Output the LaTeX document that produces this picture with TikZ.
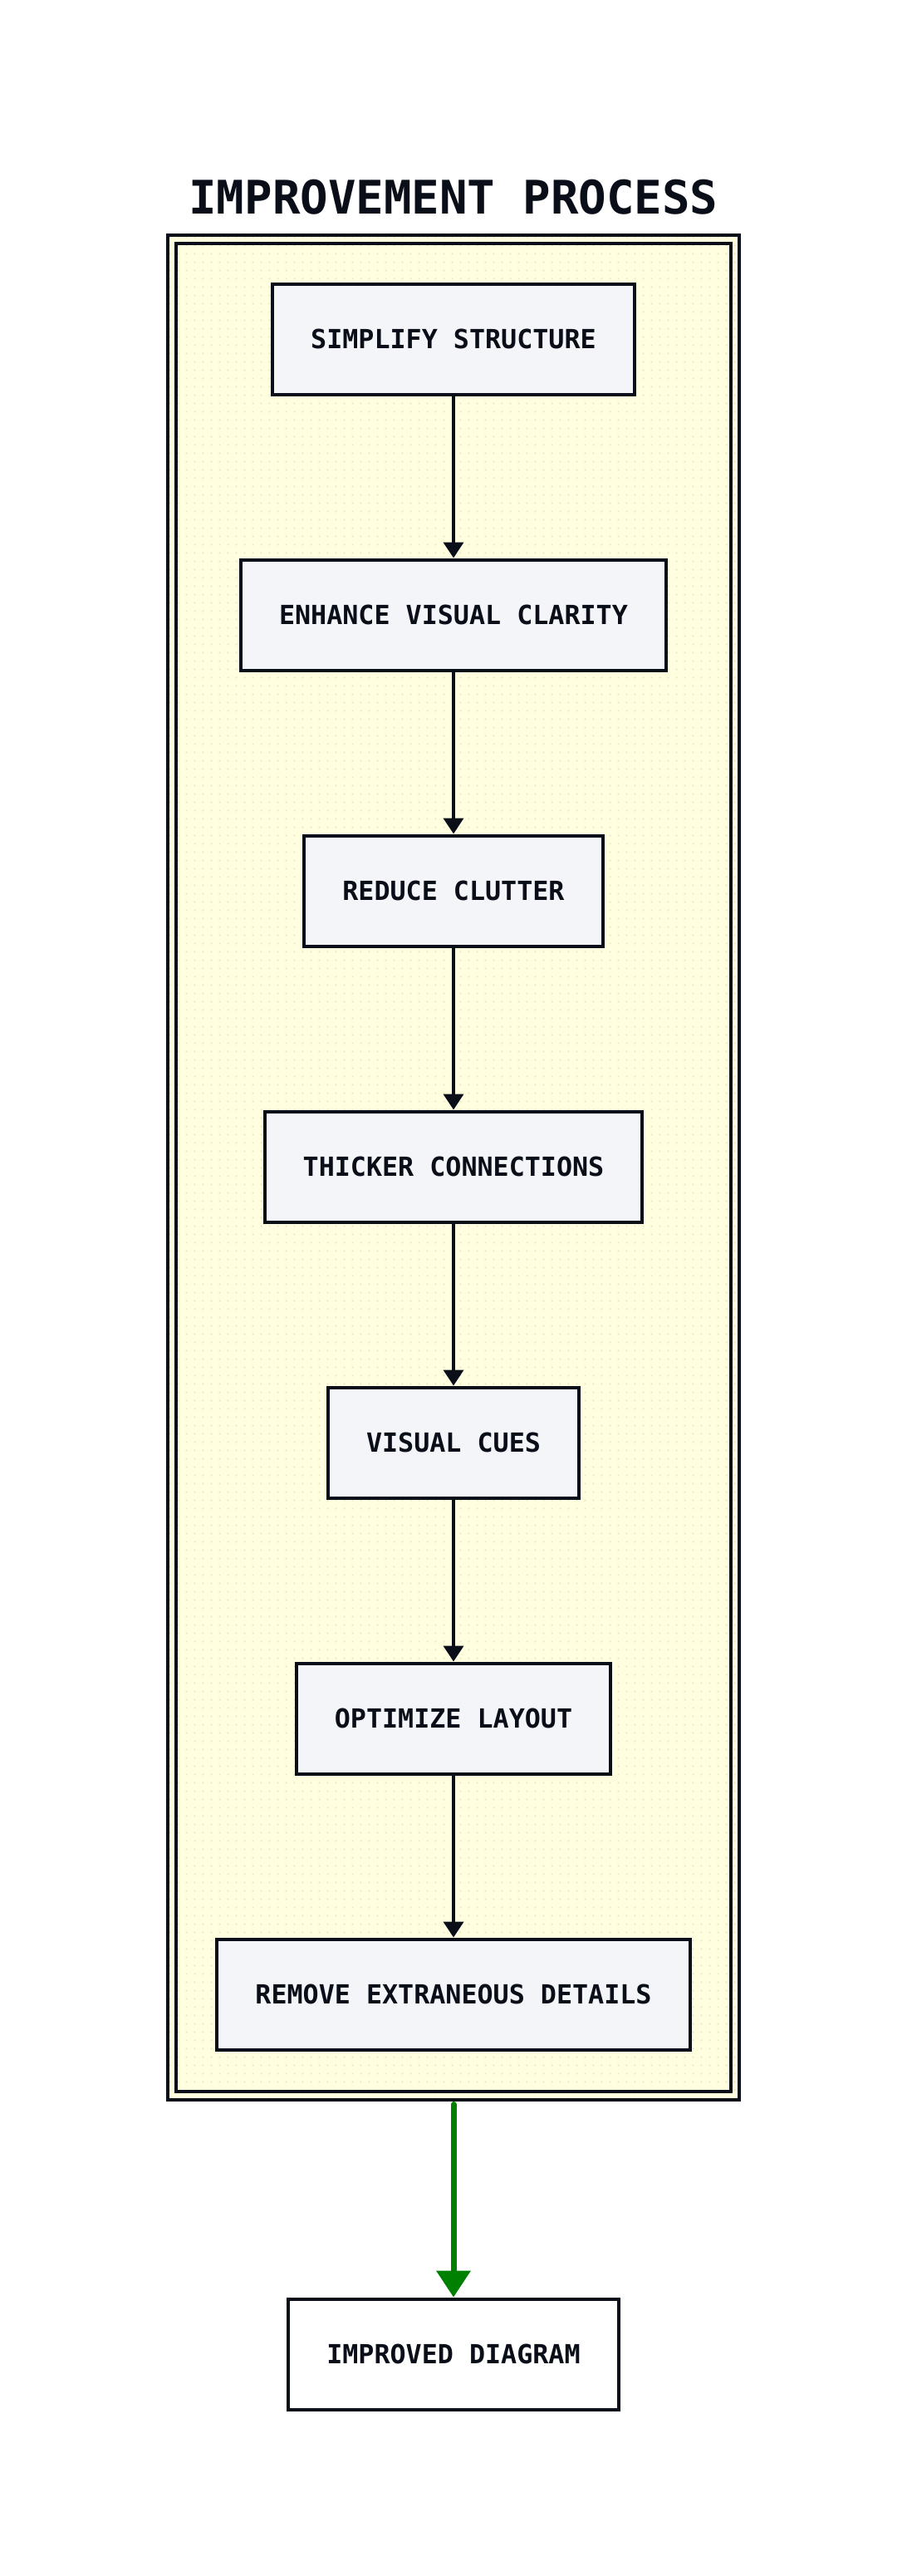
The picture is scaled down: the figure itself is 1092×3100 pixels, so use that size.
\documentclass[tikz,border=0pt]{standalone}
\usepackage{fontspec}
\setmonofont{DejaVu Sans Mono}
\usetikzlibrary{arrows.meta,patterns.meta}

\definecolor{inkcol}{HTML}{0A0E18}
\definecolor{stepfill}{HTML}{F4F5F9}
\definecolor{clusterbg}{HTML}{FFFFE0}
\definecolor{dotcol}{HTML}{E2E2C4}
\definecolor{flowgreen}{HTML}{008000}

\tikzdeclarepattern{
  name=dotgrid,
  type=uncolored,
  bounding box={(0pt,0pt) and (10pt,10pt)},
  tile size={(10pt,10pt)},
  code={\fill (4pt,4pt) rectangle (6pt,6pt);}
}

\tikzset{
  stepbox/.style={draw=inkcol, line width=4pt, fill=stepfill, text=inkcol,
    inner xsep=46pt, inner ysep=0pt, minimum height=133pt,
    font=\ttfamily\bfseries\fontsize{31.7pt}{38pt}\selectfont},
  flow/.style={draw=inkcol, line width=4pt, -{Triangle[width=24pt,length=19pt]}},
  bigflow/.style={draw=flowgreen, line width=7pt, line cap=round,
    -{Triangle[width=40pt,length=32pt]}},
  frame/.style={draw=inkcol, line width=4pt, inner sep=0pt}
}

\begin{document}
\begin{tikzpicture}[x=1pt,y=-1pt]
  \useasboundingbox[fill=white] (0,0) rectangle (1092,3100);

  % title
  \node[text=inkcol, font=\ttfamily\bfseries\fontsize{55.7pt}{66pt}\selectfont] (title) at (546,237) {IMPROVEMENT PROCESS};

  % cluster frames
  \node[frame, minimum width=688pt, minimum height=2244pt,
    preaction={fill=clusterbg}, pattern=dotgrid, pattern color=dotcol] (outer) at (546,1404.5) {};
  \node[frame, minimum width=668pt, minimum height=2224pt] (inner) at (546,1404.5) {};

  % steps
  \node[stepbox] (simplify) at (546,408) {SIMPLIFY STRUCTURE};
  \node[stepbox] (enhance) at (546,740) {ENHANCE VISUAL CLARITY};
  \node[stepbox] (reduce) at (546,1072) {REDUCE CLUTTER};
  \node[stepbox] (thicker) at (546,1404) {THICKER CONNECTIONS};
  \node[stepbox] (cues) at (546,1736) {VISUAL CUES};
  \node[stepbox] (optimize) at (546,2068) {OPTIMIZE LAYOUT};
  \node[stepbox] (remove) at (546,2400) {REMOVE EXTRANEOUS DETAILS};

  \node[stepbox, fill=white] (improved) at (546,2833) {IMPROVED DIAGRAM};

  \draw[flow] (simplify) -- (enhance);
  \draw[flow] (enhance) -- (reduce);
  \draw[flow] (reduce) -- (thicker);
  \draw[flow] (thicker) -- (cues);
  \draw[flow] (cues) -- (optimize);
  \draw[flow] (optimize) -- (remove);

  \draw[bigflow] ([yshift=-4pt]outer.south) -- (improved.north);
\end{tikzpicture}
\end{document}
